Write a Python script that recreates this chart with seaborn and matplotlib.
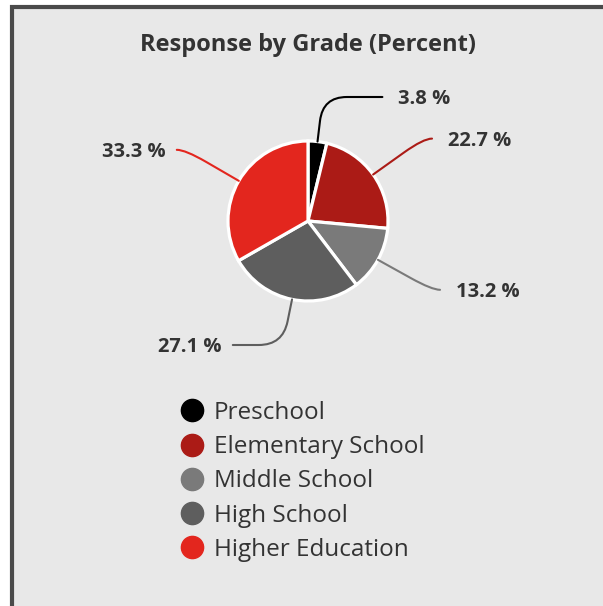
import numpy as np
import matplotlib.pyplot as plt
import seaborn as sns
from matplotlib.path import Path
from matplotlib.patches import PathPatch, Rectangle
from matplotlib.lines import Line2D

# data
grades = ['Preschool', 'Elementary School', 'Middle School', 'High School', 'Higher Education']
percent = [3.8, 22.7, 13.2, 27.1, 33.3]
colors = ['#000000', '#ab1b16', '#7a7a7a', '#5e5e5e', '#e3261e']

# where each leader line ends (pie radius = 1)
label_ends = [(0.93, 1.55), (1.55, 1.03), (1.65, -0.86), (-0.94, -1.55), (-1.64, 0.89)]

sns.set_theme(style='white')
plt.rcParams['font.family'] = ['Open Sans', 'DejaVu Sans']

W, H = 603, 606
fig = plt.figure(figsize=(W / 100, H / 100), dpi=100, facecolor='white')
ax = fig.add_axes([0, 0, 1, 1])
ax.set_facecolor('none')

# grey panel with dark border on the left / top
fig.patches.append(Rectangle((11.5 / W, -0.1), 1.2, (H - 7) / H + 0.1, transform=fig.transFigure,
                             facecolor='#e8e8e8', edgecolor='#4a4a4a', lw=3, zorder=-1))

wedges, _ = ax.pie(percent, colors=colors, startangle=90, counterclock=False, radius=1,
                   center=(0, 0), wedgeprops=dict(edgecolor='white', linewidth=2.3))

# pie centre at (308, 221) px, 80 px per unit
ax.set_xlim(-308 / 80, (W - 308) / 80)
ax.set_ylim(-(H - 221) / 80, 221 / 80)
ax.set_aspect('auto')
ax.axis('off')

# leader lines + labels
for w, (ex, ey), col, p in zip(wedges, label_ends, colors, percent):
    ang = np.deg2rad((w.theta1 + w.theta2) / 2)
    d = np.array([np.cos(ang), np.sin(ang)])
    s = d * 1.0
    t = (ey - s[1]) / d[1]
    k = s + t * d
    side = np.sign(ex)
    r1 = min(0.3, 0.6 * t)
    r2 = min(0.3, abs(ex - k[0]))
    a = k - r1 * d
    b = k + np.array([side * r2, 0])
    verts = [tuple(s), tuple(a), tuple(k), tuple(b), (ex, ey)]
    codes = [Path.MOVETO, Path.LINETO, Path.CURVE3, Path.CURVE3, Path.LINETO]
    ax.add_patch(PathPatch(Path(verts, codes), fc='none', ec=col, lw=1.5, capstyle='round'))
    gap = 0.2 if side > 0 else 0.14
    ax.text(ex + side * gap, ey, f'{p} %', ha='left' if side > 0 else 'right',
            va='center_baseline', fontsize=14.5, fontweight='bold', color='#333333')

fig.text(308 / W, 1 - 45 / H, 'Response by Grade (Percent)', fontsize=17, fontweight='bold',
         color='#333333', ha='center', va='center')

handles = [Line2D([], [], marker='o', ls='', ms=16, color=c) for c in colors]
leg = ax.legend(handles, grades, loc='upper left', bbox_to_anchor=(-1.6, -2.25),
                bbox_transform=ax.transData, frameon=False, borderpad=0, borderaxespad=0,
                handlelength=1.0, handletextpad=0.4, labelspacing=0.42, fontsize=17.5)
for t in leg.get_texts():
    t.set_color('#333333')

fig.savefig('out.png', dpi=100, facecolor='white')
